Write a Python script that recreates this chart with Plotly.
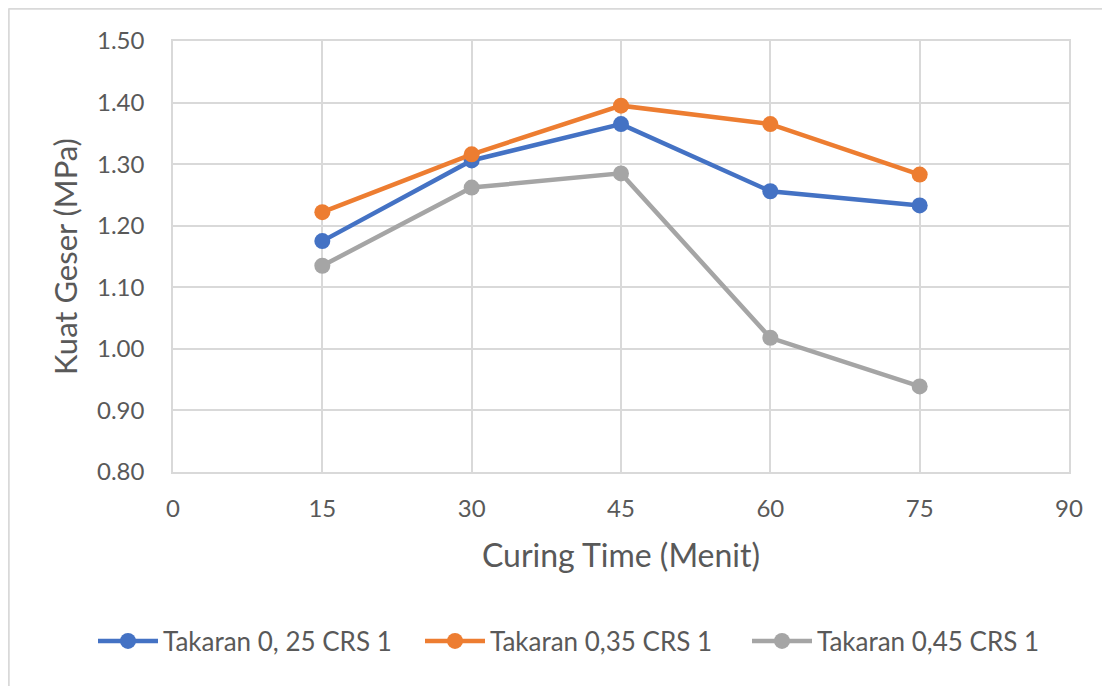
import plotly.graph_objects as go

curing_time = [15, 30, 45, 60, 75]
takaran_025 = [1.175, 1.306, 1.365, 1.256, 1.233]
takaran_035 = [1.222, 1.316, 1.395, 1.365, 1.283]
takaran_045 = [1.135, 1.262, 1.285, 1.018, 0.939]
series_names = ["Takaran 0, 25 CRS 1", "Takaran 0,35 CRS 1", "Takaran 0,45 CRS 1"]
series_colors = ["#4472C4", "#ED7D31", "#A5A5A5"]

FONT = "Lato"
TXT = "#595959"
GRID = "#d9d9d9"

fig = go.Figure()
for name, vals, col in zip(series_names, [takaran_025, takaran_035, takaran_045], series_colors):
    fig.add_trace(go.Scatter(
        x=curing_time, y=vals, name=name, mode="lines+markers",
        line=dict(color=col, width=4.5),
        marker=dict(color=col, size=16, symbol="circle"),
    ))

W, H = 1110, 686
L, R, T, B = 165, 49, 33, 222
pw, ph = W - L - R, H - T - B

fig.update_layout(
    width=W, height=H,
    margin=dict(l=L, r=R, t=T, b=B, autoexpand=False),
    paper_bgcolor="white", plot_bgcolor="white",
    font=dict(family=FONT, color=TXT, size=24),
    showlegend=True,
    legend=dict(
        orientation="h", x=(85 - L) / pw, xanchor="left",
        y=(T + ph - 633) / ph, yanchor="middle",
        font=dict(size=26, color=TXT, family=FONT),
        itemwidth=60, entrywidth=252, bgcolor="rgba(0,0,0,0)",
    ),
    xaxis=dict(
        range=[0, 90], dtick=15, tick0=0, showgrid=True, gridcolor=GRID, gridwidth=1.5,
        zeroline=False, showline=True, linecolor=GRID, linewidth=1.5, mirror=True,
        ticks="", ticklabelstandoff=14,
        tickfont=dict(size=24, color=TXT, family=FONT),
        title=dict(text="Curing Time (Menit)", font=dict(size=32, color=TXT, family=FONT), standoff=24),
    ),
    yaxis=dict(
        range=[0.80, 1.50], dtick=0.1, tick0=0.8, tickformat=".2f", showgrid=True,
        gridcolor=GRID, gridwidth=1.5,
        zeroline=False, showline=True, linecolor=GRID, linewidth=1.5, mirror=True,
        ticks="", ticklabelstandoff=22,
        tickfont=dict(size=24, color=TXT, family=FONT),
        title=dict(text="Kuat Geser (MPa)", font=dict(size=31, color=TXT, family=FONT), standoff=10),
    ),
)

# chart frame border (left and top edges visible)
bx = (0.5 - L) / pw
by = 1 + (T - 0.5) / ph
fig.add_shape(type="line", xref="paper", yref="paper", x0=bx, x1=bx, y0=by, y1=-1,
              line=dict(color=GRID, width=2.5), layer="below")
fig.add_shape(type="line", xref="paper", yref="paper", x0=bx, x1=2, y0=by, y1=by,
              line=dict(color=GRID, width=2.5), layer="below")

fig.write_html("out.html")
